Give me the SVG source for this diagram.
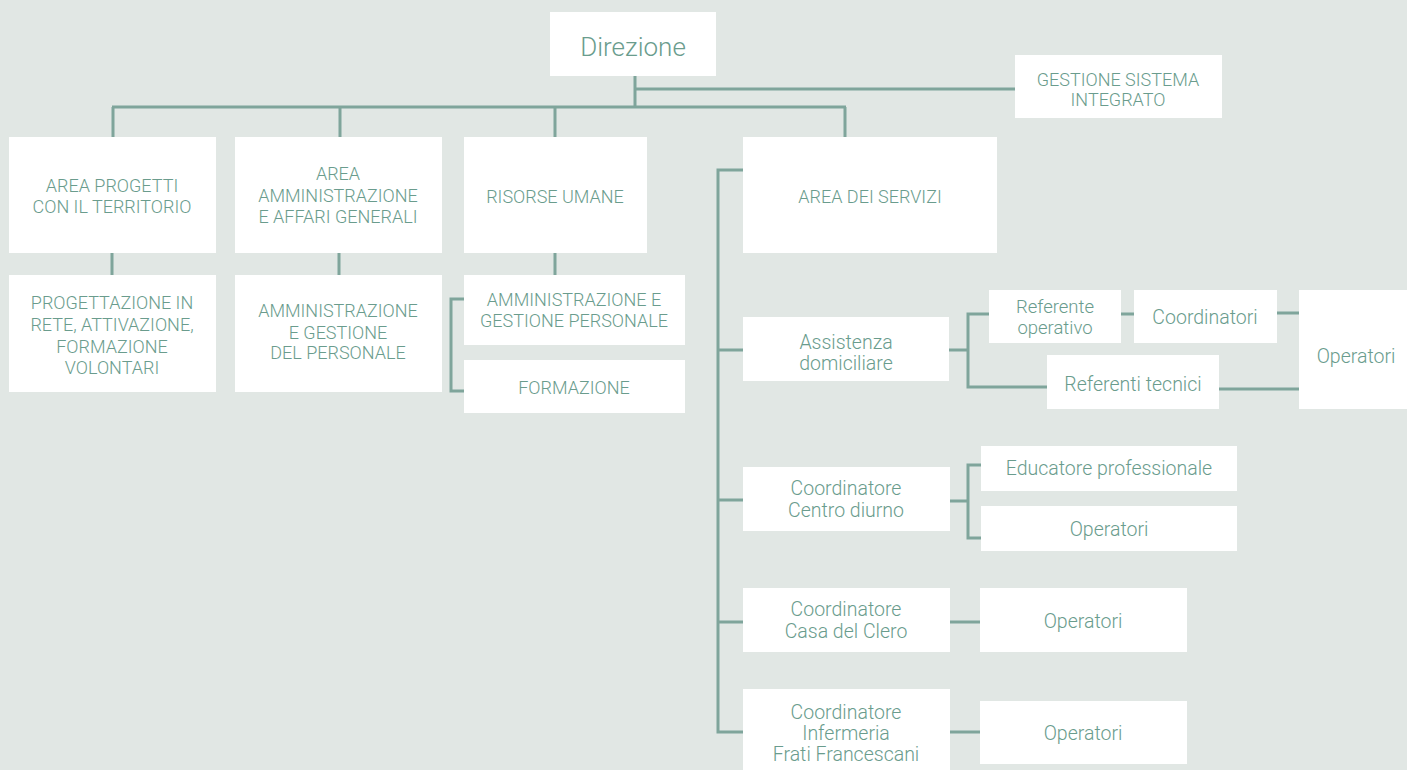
<svg xmlns="http://www.w3.org/2000/svg" width="1407" height="770" viewBox="0 0 1407 770">
<style>
.bg{fill:#e1e7e4}
.box{fill:#ffffff}
.t{font-family:Roboto,"Open Sans","Liberation Sans",sans-serif;font-weight:300;fill:#6a9c8d;text-anchor:middle}
.u{font-size:18px}
.l{font-size:19.5px}
.s{font-size:18.5px}
.c{fill:none;stroke:#7fa59b;stroke-width:3}
</style>
<rect class="bg" x="0" y="0" width="1407" height="770"/>
<g id="connectors">
<path class="c" d="M635 76V107M635 89H1015M112 107H846M113 107V137M340 107V137M555 107V137M845 107V137"/>
<path class="c" d="M112 253V275M339 253V275M555 253V275M464 299H451V391H464"/>
<path class="c" d="M743 170H718V732H743M718 350H743M718 500H743M718 622H743"/>
<path class="c" d="M949 350H968M989 314H968V387H1047M1121 314H1134M1277 313H1299M1219 389H1299"/>
<path class="c" d="M950 501H968M981 465H968V538H981M950 622H980M950 732H980"/>
</g>
<g id="direzione"><rect class="box" x="550" y="12" width="166" height="64"/><text class="t" x="633" y="56" font-size="26">Direzione</text></g>
<g id="gestione-sistema"><rect class="box" x="1015" y="55" width="207" height="63"/><text class="t u" x="1118" y="86">GESTIONE SISTEMA</text><text class="t u" x="1118" y="106">INTEGRATO</text></g>
<g id="area-progetti"><rect class="box" x="9" y="137" width="207" height="116"/><text class="t u" x="112" y="192">AREA PROGETTI</text><text class="t u" x="112" y="213">CON IL TERRITORIO</text></g>
<g id="area-amministrazione"><rect class="box" x="235" y="137" width="207" height="116"/><text class="t u" x="338" y="180">AREA</text><text class="t u" x="338" y="202">AMMINISTRAZIONE</text><text class="t u" x="338" y="223">E AFFARI GENERALI</text></g>
<g id="risorse-umane"><rect class="box" x="464" y="137" width="183" height="116"/><text class="t u" x="555" y="203">RISORSE UMANE</text></g>
<g id="area-servizi"><rect class="box" x="743" y="137" width="254" height="116"/><text class="t u" x="870" y="203">AREA DEI SERVIZI</text></g>
<g id="progettazione"><rect class="box" x="9" y="275" width="207" height="117"/><text class="t u" x="112" y="309">PROGETTAZIONE IN</text><text class="t u" x="112" y="331">RETE, ATTIVAZIONE,</text><text class="t u" x="112" y="353">FORMAZIONE</text><text class="t u" x="112" y="374">VOLONTARI</text></g>
<g id="amm-gestione-personale"><rect class="box" x="235" y="275" width="207" height="117"/><text class="t u" x="338" y="317">AMMINISTRAZIONE</text><text class="t u" x="338" y="339">E GESTIONE</text><text class="t u" x="338" y="359">DEL PERSONALE</text></g>
<g id="amm-e-gestione"><rect class="box" x="464" y="275" width="221" height="70"/><text class="t u" x="574" y="306">AMMINISTRAZIONE E</text><text class="t u" x="574" y="327">GESTIONE PERSONALE</text></g>
<g id="formazione"><rect class="box" x="464" y="360" width="221" height="53"/><text class="t u" x="574" y="394">FORMAZIONE</text></g>
<g id="assistenza"><rect class="box" x="743" y="317" width="206" height="64"/><text class="t l" x="846" y="349">Assistenza</text><text class="t l" x="846" y="370">domiciliare</text></g>
<g id="referente-operativo"><rect class="box" x="989" y="290" width="132" height="53"/><text class="t s" x="1055" y="313">Referente</text><text class="t s" x="1055" y="334">operativo</text></g>
<g id="coordinatori"><rect class="box" x="1134" y="290" width="143" height="53"/><text class="t l" x="1205" y="324">Coordinatori</text></g>
<g id="referenti-tecnici"><rect class="box" x="1047" y="355" width="172" height="54"/><text class="t l" x="1133" y="391">Referenti tecnici</text></g>
<g id="operatori-ad"><rect class="box" x="1299" y="290" width="110" height="119"/><text class="t l" x="1356" y="363">Operatori</text></g>
<g id="centro-diurno"><rect class="box" x="743" y="467" width="207" height="64"/><text class="t l" x="846" y="495">Coordinatore</text><text class="t l" x="846" y="517">Centro diurno</text></g>
<g id="educatore"><rect class="box" x="981" y="446" width="256" height="45"/><text class="t l" x="1109" y="475">Educatore professionale</text></g>
<g id="operatori-cd"><rect class="box" x="981" y="506" width="256" height="45"/><text class="t l" x="1109" y="536">Operatori</text></g>
<g id="casa-clero"><rect class="box" x="743" y="588" width="207" height="64"/><text class="t l" x="846" y="616">Coordinatore</text><text class="t l" x="846" y="638">Casa del Clero</text></g>
<g id="operatori-cc"><rect class="box" x="980" y="588" width="207" height="64"/><text class="t l" x="1083" y="628">Operatori</text></g>
<g id="infermeria"><rect class="box" x="743" y="689" width="207" height="81"/><text class="t l" x="846" y="719">Coordinatore</text><text class="t l" x="846" y="740">Infermeria</text><text class="t l" x="846" y="761">Frati Francescani</text></g>
<g id="operatori-inf"><rect class="box" x="980" y="701" width="207" height="63"/><text class="t l" x="1083" y="740">Operatori</text></g>
</svg>
